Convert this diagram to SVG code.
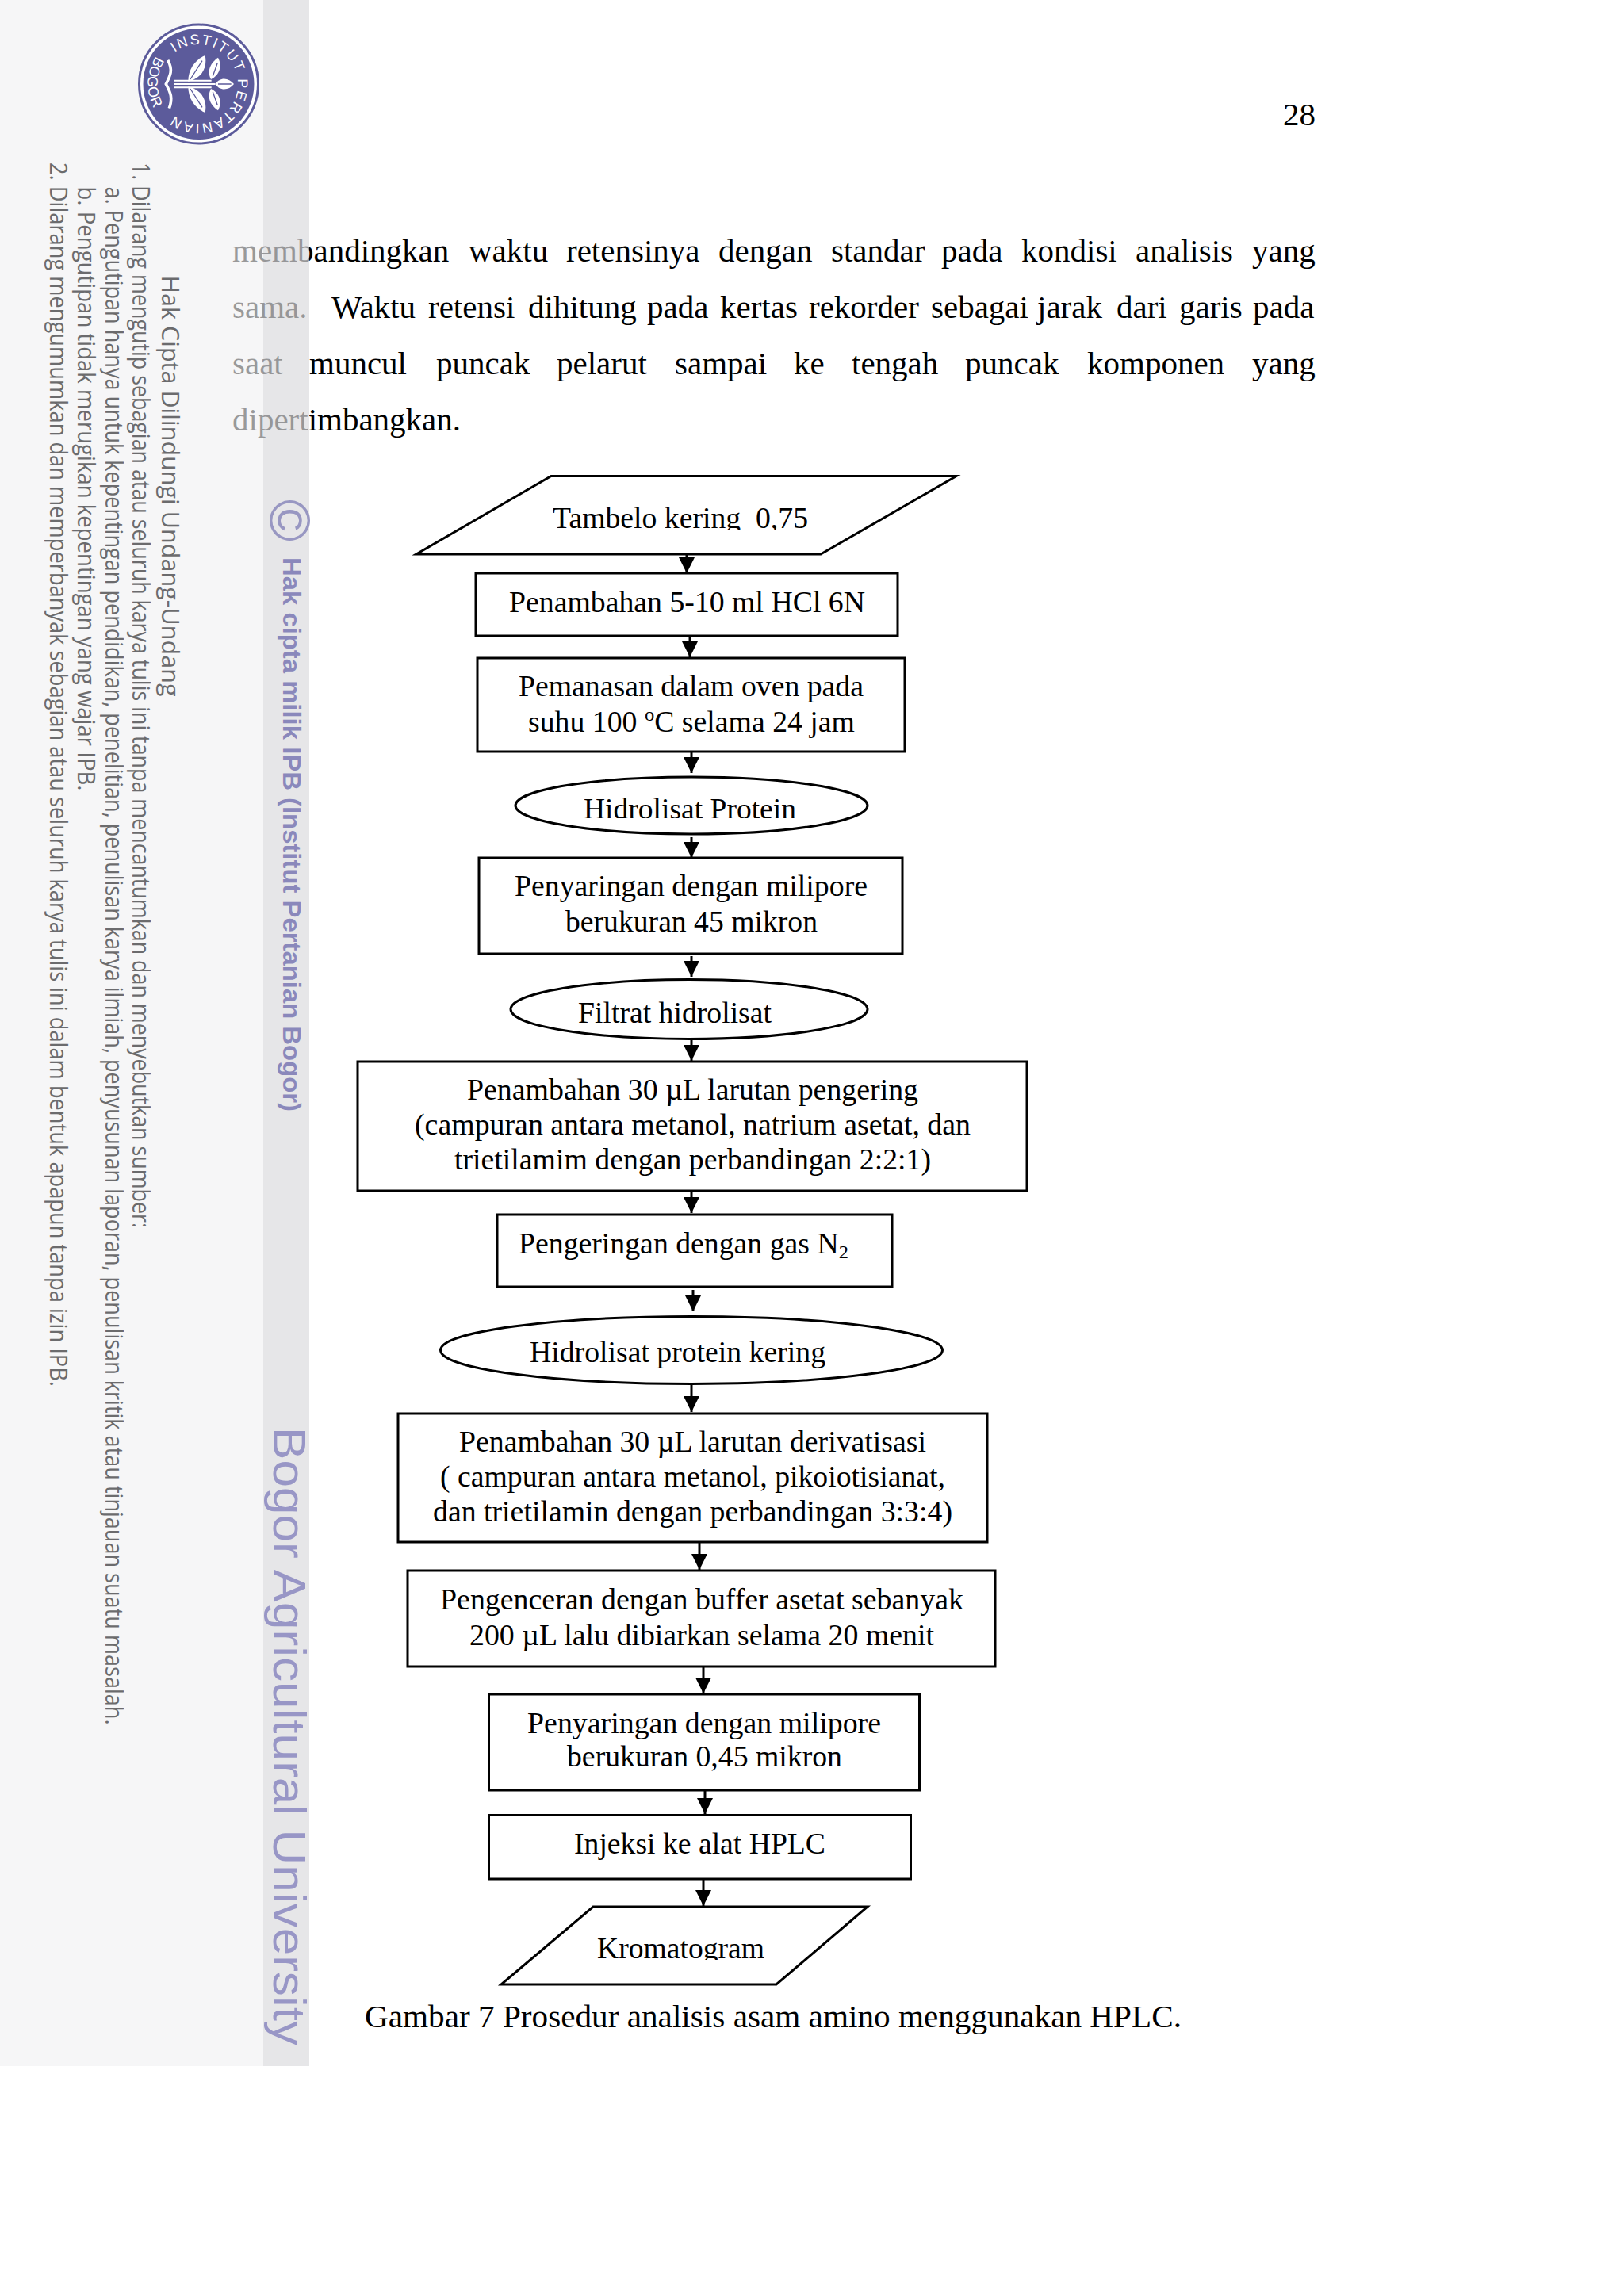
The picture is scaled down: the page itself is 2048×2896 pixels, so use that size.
<svg xmlns="http://www.w3.org/2000/svg" width="2048" height="2896" viewBox="0 0 2048 2896">
<style>
.t{font-family:"Liberation Serif","Times New Roman",serif;font-size:37px;fill:#000;white-space:pre}
.b{font-family:"Liberation Serif","Times New Roman",serif;font-size:41px;fill:#000;white-space:pre}
.s{fill:#fff;stroke:#000;stroke-width:3}
.c line{stroke:#000;stroke-width:3;marker-end:url(#ah)}
.g{font-family:"Open Sans","Liberation Sans",sans-serif;font-size:31px;fill:#6b6b6d}
.v{font-family:"Liberation Sans",Arial,sans-serif;fill:#8a88bb}
.l{font-family:"Liberation Sans",Arial,sans-serif;font-size:18px;fill:#fff}
</style>
<defs>
<marker id="ah" markerUnits="userSpaceOnUse" markerWidth="20" markerHeight="20" refX="20" refY="10" orient="auto"><path d="M0 0L20 10L0 20Z" fill="#000"/></marker>
<clipPath id="c1"><rect x="600" y="620" width="500" height="48"/></clipPath>
<clipPath id="c2"><rect x="700" y="990" width="340" height="42"/></clipPath>
<clipPath id="c3"><rect x="720" y="2420" width="280" height="52"/></clipPath>
<path id="arcA" d="M220 66A50 50 0 1 1 220 146"/>
<path id="arcB" d="M196.800 71A64 64 0 0 0 194.500 137"/>
</defs>
<rect width="2048" height="2896" fill="#fff"/>
<g id="body">
<text class="b" y="330"><tspan x="293">membandingkan </tspan><tspan x="591">waktu </tspan><tspan x="714">retensinya </tspan><tspan x="906">dengan </tspan><tspan x="1048">standar </tspan><tspan x="1187">pada </tspan><tspan x="1288">kondisi </tspan><tspan x="1432">analisis </tspan><tspan x="1579">yang</tspan></text>
<text class="b" y="401"><tspan x="293">sama. </tspan><tspan x="418">Waktu </tspan><tspan x="540">retensi </tspan><tspan x="666">dihitung </tspan><tspan x="816">pada </tspan><tspan x="908">kertas </tspan><tspan x="1020">rekorder </tspan><tspan x="1174">sebagai </tspan><tspan x="1308">jarak </tspan><tspan x="1408">dari </tspan><tspan x="1487">garis </tspan><tspan x="1580">pada</tspan></text>
<text class="b" y="472"><tspan x="293">saat </tspan><tspan x="390">muncul </tspan><tspan x="550">puncak </tspan><tspan x="702">pelarut </tspan><tspan x="851">sampai </tspan><tspan x="1001">ke </tspan><tspan x="1074">tengah </tspan><tspan x="1217">puncak </tspan><tspan x="1371">komponen </tspan><tspan x="1579">yang</tspan></text>
<text class="b" x="293" y="543">dipertimbangkan.</text>
<text class="b" x="1618" y="158">28</text>
</g>
<g id="sidebar">
<rect x="0" y="0" width="332" height="2606" fill="#f1f1f2" fill-opacity=".635"/>
<rect x="332" y="0" width="58" height="2606" fill="#dbdbde" fill-opacity=".686"/>
</g>
<g id="logo">
<circle cx="250.5" cy="106" r="75" fill="#fff" stroke="#5c5b9b" stroke-width="3"/>
<circle cx="250.5" cy="106" r="70" fill="#5c5b9b"/>
<text class="l" letter-spacing="2"><textPath href="#arcA">INSTITUT PERTANIAN</textPath></text>
<text class="l" letter-spacing=".4"><textPath href="#arcB">BOGOR</textPath></text>
<g transform="translate(160 20) scale(.3333)">
<path d="M155 168C175 205 165 225 148 258C165 290 175 310 160 350" fill="none" stroke="#fff" stroke-width="11"/>
<path d="M178 245H320M178 258H335M178 271H320" stroke="#fff" stroke-width="6" fill="none"/>
<path d="M232 248C232 200 260 165 296 150C305 195 285 235 232 248Z" fill="#fff"/>
<path d="M232 268C232 316 260 351 296 366C305 321 285 281 232 268Z" fill="#fff"/>
<path d="M318 240C300 205 320 175 345 158C362 190 350 225 318 240Z" fill="#fff"/>
<path d="M318 276C300 311 320 341 345 358C362 326 350 291 318 276Z" fill="#fff"/>
<path d="M335 258C350 232 385 232 405 258C385 284 350 284 335 258Z" fill="#fff"/>
<path d="M240 240L285 170M240 276L285 346M325 228L343 178M325 288L343 338M345 258H395" stroke="#5c5b9b" stroke-width="4" fill="none"/>
</g>
</g>
<g id="notice">
<text class="g" transform="translate(204 347.5) rotate(90)" textLength="531" lengthAdjust="spacingAndGlyphs">Hak Cipta Dilindungi Undang-Undang</text>
<text class="g" transform="translate(167 205) rotate(90)" textLength="1344" lengthAdjust="spacingAndGlyphs">1. Dilarang mengutip sebagian atau seluruh karya tulis ini tanpa mencantumkan dan menyebutkan sumber:</text>
<text class="g" transform="translate(133 235.5) rotate(90)" textLength="1940" lengthAdjust="spacingAndGlyphs">a. Pengutipan hanya untuk kepentingan pendidikan, penelitian, penulisan karya ilmiah, penyusunan laporan, penulisan kritik atau tinjauan suatu masalah.</text>
<text class="g" transform="translate(98 235.5) rotate(90)" textLength="762" lengthAdjust="spacingAndGlyphs">b. Pengutipan tidak merugikan kepentingan yang wajar IPB.</text>
<text class="g" transform="translate(63 205) rotate(90)" textLength="1544" lengthAdjust="spacingAndGlyphs">2. Dilarang mengumumkan dan memperbanyak sebagian atau seluruh karya tulis ini dalam bentuk apapun tanpa izin IPB.</text>
<text class="v" font-size="72" transform="translate(341 630) rotate(90)" fill-opacity=".85">©</text>
<text class="v" font-size="31" font-weight="700" transform="translate(357 703) rotate(90)" textLength="699" lengthAdjust="spacingAndGlyphs">Hak cipta milik IPB (Institut Pertanian Bogor)</text>
<text font-family="Liberation Sans, Arial, sans-serif" font-size="58" transform="translate(345 1800) rotate(90)" textLength="780" lengthAdjust="spacingAndGlyphs" fill="#9896c6">Bogor Agricultural University</text>
</g>
<g id="connectors" class="c">
<line x1="866" y1="699" x2="866" y2="723"/>
<line x1="870" y1="803" x2="870" y2="829"/>
<line x1="872" y1="948" x2="872" y2="975"/>
<line x1="872" y1="1056" x2="872" y2="1082"/>
<line x1="872" y1="1206" x2="872" y2="1232"/>
<line x1="872" y1="1310" x2="872" y2="1338"/>
<line x1="872" y1="1502" x2="872" y2="1530"/>
<line x1="874" y1="1627" x2="874" y2="1654"/>
<line x1="872" y1="1746" x2="872" y2="1781"/>
<line x1="882" y1="1945" x2="882" y2="1980"/>
<line x1="887" y1="2102" x2="887" y2="2136"/>
<line x1="889" y1="2254" x2="889" y2="2288"/>
<line x1="887" y1="2370" x2="887" y2="2404"/>
</g>
<g id="n1"><polygon class="s" points="695,600.5 1206,600.5 1035,699 525,699"/><text class="t" x="697" y="666" textLength="322" lengthAdjust="spacingAndGlyphs" clip-path="url(#c1)">Tambelo kering  0,75</text></g>
<g id="n2"><rect class="s" x="600" y="723" width="532" height="79"/><text class="t" x="642" y="772" textLength="449" lengthAdjust="spacingAndGlyphs">Penambahan 5-10 ml HCl 6N</text></g>
<g id="n3"><rect class="s" x="602" y="830" width="539" height="118"/><text class="t" x="654" y="878" textLength="435" lengthAdjust="spacingAndGlyphs">Pemanasan dalam oven pada</text><text class="t" x="666" y="923" textLength="412" lengthAdjust="spacingAndGlyphs">suhu 100 <tspan dy="-14" font-size="24">o</tspan><tspan dy="14">C selama 24 jam</tspan></text></g>
<g id="n4"><ellipse class="s" cx="872" cy="1016" rx="222" ry="36"/><text class="t" x="736" y="1033" textLength="268" lengthAdjust="spacingAndGlyphs" clip-path="url(#c2)">Hidrolisat Protein</text></g>
<g id="n5"><rect class="s" x="604" y="1082" width="534" height="121"/><text class="t" x="649" y="1130" textLength="445" lengthAdjust="spacingAndGlyphs">Penyaringan dengan milipore</text><text class="t" x="713" y="1175" textLength="318" lengthAdjust="spacingAndGlyphs">berukuran 45 mikron</text></g>
<g id="n6"><ellipse class="s" cx="869" cy="1273" rx="225" ry="37.5"/><text class="t" x="729" y="1290" textLength="244" lengthAdjust="spacingAndGlyphs">Filtrat hidrolisat</text></g>
<g id="n7"><rect class="s" x="451" y="1339" width="844" height="163"/><text class="t" x="589" y="1387" textLength="569" lengthAdjust="spacingAndGlyphs">Penambahan 30 µL larutan pengering</text><text class="t" x="523" y="1431" textLength="701" lengthAdjust="spacingAndGlyphs">(campuran antara metanol, natrium asetat, dan</text><text class="t" x="573" y="1475" textLength="601" lengthAdjust="spacingAndGlyphs">trietilamim dengan perbandingan 2:2:1)</text></g>
<g id="n8"><rect class="s" x="627" y="1532" width="498" height="91"/><text class="t" x="654" y="1581" textLength="416" lengthAdjust="spacingAndGlyphs">Pengeringan dengan gas N<tspan dy="6" font-size="24">2</tspan></text></g>
<g id="n9"><ellipse class="s" cx="872" cy="1703" rx="316.5" ry="42.5"/><text class="t" x="668" y="1718" textLength="373" lengthAdjust="spacingAndGlyphs">Hidrolisat protein kering</text></g>
<g id="n10"><rect class="s" x="502" y="1783" width="743" height="162"/><text class="t" x="579" y="1831" textLength="589" lengthAdjust="spacingAndGlyphs">Penambahan 30 µL larutan derivatisasi</text><text class="t" x="555" y="1875" textLength="637" lengthAdjust="spacingAndGlyphs">( campuran antara metanol, pikoiotisianat,</text><text class="t" x="546" y="1919" textLength="655" lengthAdjust="spacingAndGlyphs">dan trietilamin dengan perbandingan 3:3:4)</text></g>
<g id="n11"><rect class="s" x="514" y="1981" width="741" height="121"/><text class="t" x="555" y="2030" textLength="660" lengthAdjust="spacingAndGlyphs">Pengenceran dengan buffer asetat sebanyak</text><text class="t" x="592" y="2075" textLength="586" lengthAdjust="spacingAndGlyphs">200 µL lalu dibiarkan selama 20 menit</text></g>
<g id="n12"><rect class="s" x="616.5" y="2137" width="543" height="121"/><text class="t" x="665" y="2186" textLength="446" lengthAdjust="spacingAndGlyphs">Penyaringan dengan milipore</text><text class="t" x="715" y="2228" textLength="347" lengthAdjust="spacingAndGlyphs">berukuran 0,45 mikron</text></g>
<g id="n13"><rect class="s" x="616.5" y="2289.5" width="532" height="80.5"/><text class="t" x="724" y="2338" textLength="317" lengthAdjust="spacingAndGlyphs">Injeksi ke alat HPLC</text></g>
<g id="n14"><polygon class="s" points="748,2405 1094,2405 979,2503 632,2503"/><text class="t" x="753" y="2470" textLength="211" lengthAdjust="spacingAndGlyphs" clip-path="url(#c3)">Kromatogram</text></g>
<text id="caption" class="b" x="460" y="2557" textLength="1030" lengthAdjust="spacingAndGlyphs">Gambar 7 Prosedur analisis asam amino menggunakan HPLC.</text>
</svg>
